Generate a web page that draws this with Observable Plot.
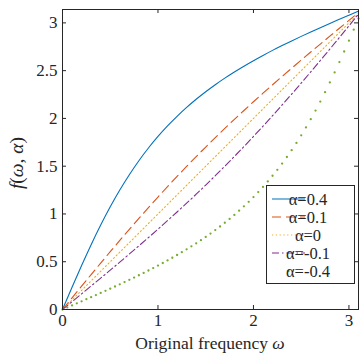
<!DOCTYPE html>
<html><head><meta charset="utf-8">
<script src="https://cdn.jsdelivr.net/npm/d3@7"></script>
<script src="https://cdn.jsdelivr.net/npm/@observablehq/plot@0.6"></script>
<style>body{margin:0;background:#fff;} #chart svg, #chart svg text{font-family:"Liberation Serif","Times New Roman",serif !important;}</style>
</head><body><div id="chart"></div>
<script>
// Frequency grid for the lines
const omegaLine = [0,0.1,0.2,0.3,0.4,0.5,0.6,0.7,0.8,0.9,1.0,1.1,1.2,1.3,1.4,1.5,1.6,1.7,1.8,1.9,2.0,2.1,2.2,2.3,2.4,2.5,2.6,2.7,2.8,2.9,3.0,3.1];
// alpha = 0.4
const fA04 = [0,0.2325,0.4600,0.6781,0.8836,1.0747,1.2504,1.4110,1.5572,1.6902,1.8112,1.9215,2.0223,2.1149,2.2002,2.2793,2.3528,2.4214,2.4860,2.5468,2.6045,2.6595,2.7121,2.7626,2.8114,2.8587,2.9048,2.9498,2.9940,3.0376,3.0808,3.1238];
// alpha = 0.1
const fA01 = [0,0.1222,0.2440,0.3653,0.4857,0.6050,0.7229,0.8393,0.9539,1.0667,1.1774,1.2862,1.3928,1.4974,1.5998,1.7003,1.7987,1.8952,1.9899,2.0828,2.1742,2.2640,2.3524,2.4396,2.5257,2.6107,2.6949,2.7784,2.8612,2.9436,3.0257,3.1076];
// alpha = -0.1
const fAm01 = [0,0.0818,0.1638,0.2461,0.3287,0.4119,0.4958,0.5805,0.6661,0.7528,0.8407,0.9299,1.0206,1.1129,1.2068,1.3026,1.4002,1.4998,1.6014,1.7050,1.8108,1.9187,2.0286,2.1406,2.2544,2.3701,2.4874,2.6061,2.7261,2.8470,2.9687,3.0908];
// alpha = 0 (identity)
const omegaA0 = [0,3.1];
const fA0 = [0,3.1];
// alpha = -0.4 (dot markers)
const omegaDots = [0,0.05,0.10,0.15,0.20,0.25,0.30,0.35,0.40,0.45,0.50,0.55,0.60,0.65,0.70,0.75,0.80,0.85,0.90,0.95,1.00,1.05,1.10,1.15,1.20,1.25,1.30,1.35,1.40,1.45,1.50,1.55,1.60,1.65,1.70,1.75,1.80,1.85,1.90,1.95,2.00,2.05,2.10,2.15,2.20,2.25,2.30,2.35,2.40,2.45,2.50,2.55,2.60,2.65,2.70,2.75,2.80,2.85,2.90,2.95,3.00,3.05,3.10];
const fAm04 = [0,0.0214,0.0429,0.0644,0.0860,0.1076,0.1294,0.1513,0.1733,0.1956,0.2180,0.2407,0.2636,0.2868,0.3104,0.3343,0.3585,0.3832,0.4083,0.4339,0.4600,0.4866,0.5139,0.5418,0.5704,0.5998,0.6299,0.6609,0.6929,0.7258,0.7597,0.7948,0.8312,0.8688,0.9078,0.9483,0.9904,1.0342,1.0798,1.1274,1.1771,1.2290,1.2833,1.3402,1.3997,1.4621,1.5275,1.5961,1.6681,1.7435,1.8226,1.9054,1.9920,2.0824,2.1767,2.2747,2.3764,2.4814,2.5896,2.7005,2.8136,2.9285,3.0446];

const legendLabels = ["α=0.4","α=0.1","α=0","α=-0.1","α=-0.4"];
const colors = ["#0072BD","#D95319","#EDB120","#7E2F8E","#77AC30"];
const xTicks = [0,1,2,3];
const yTicks = [0,0.5,1,1.5,2,2.5,3];

const rows = (ws, fs) => ws.map((w,i) => ({w, f: fs[i]}));
const d04 = rows(omegaLine, fA04), d01 = rows(omegaLine, fA01), dm01 = rows(omegaLine, fAm01);
const d0 = rows(omegaA0, fA0), dm04 = rows(omegaDots, fAm04);

const FONT = '"Liberation Serif", "Times New Roman", serif';
const W = 361, H = 358, mL = 62, mR = 3, mT = 9, mB = 49;
const axisColor = "#262626";
const chart = Plot.plot({
  width: W, height: H,
  marginLeft: mL, marginRight: mR, marginTop: mT, marginBottom: mB,
  style: {fontFamily: FONT, fontSize: "17px", color: axisColor, background: "#fff"},
  x: {domain: [0, 3.1]},
  y: {domain: [0, 3.14]},
  marks: [
    Plot.line(d04, {x: "w", y: "f", stroke: colors[0], strokeWidth: 1.1, curve: "monotone-x"}),
    Plot.line(d01, {x: "w", y: "f", stroke: colors[1], strokeWidth: 1.1, strokeDasharray: "9,5", curve: "monotone-x"}),
    Plot.line(d0, {x: "w", y: "f", stroke: colors[2], strokeWidth: 1.1, strokeDasharray: "1.2,2.6"}),
    Plot.line(dm01, {x: "w", y: "f", stroke: colors[3], strokeWidth: 1.1, strokeDasharray: "7,3,1.5,3", curve: "monotone-x"}),
    Plot.dot(dm04, {x: "w", y: "f", r: 1.15, fill: colors[4], stroke: null}),
    Plot.frame({stroke: axisColor, strokeWidth: 1}),
    Plot.tickX(xTicks, {x: d => d, insetTop: H - mT - mB - 4, stroke: axisColor}),
    Plot.tickX(xTicks, {x: d => d, insetBottom: H - mT - mB - 4, stroke: axisColor}),
    Plot.tickY(yTicks, {y: d => d, insetRight: W - mL - mR - 4, stroke: axisColor}),
    Plot.tickY(yTicks, {y: d => d, insetLeft: W - mL - mR - 4, stroke: axisColor}),
    Plot.axisX(xTicks, {tickSize: 0, tickPadding: 4, label: null, fontSize: 17, fill: axisColor}),
    Plot.axisY(yTicks, {tickSize: 0, tickPadding: 5, label: null, fontSize: 17, fill: axisColor, tickFormat: d => String(d)})
  ]
});
document.getElementById("chart").appendChild(chart);

const svg = d3.select(chart);
svg.attr("font-family", FONT).style("font-family", FONT);
// x label
const xl = svg.append("text").attr("x", (mL + W - mR) / 2).attr("y", 349)
  .attr("text-anchor", "middle").attr("font-size", 17.5).attr("fill", axisColor);
xl.append("tspan").text("Original frequency ");
xl.append("tspan").attr("font-style", "italic").text("ω");
// y label
const yl = svg.append("text").attr("transform", "translate(23,163) rotate(-90)")
  .attr("text-anchor", "middle").attr("font-size", 19.5).attr("fill", axisColor);
yl.append("tspan").attr("font-style", "italic").text("f");
yl.append("tspan").text("(");
yl.append("tspan").attr("font-style", "italic").text("ω");
yl.append("tspan").text(", ");
yl.append("tspan").attr("font-style", "italic").text("α");
yl.append("tspan").text(")");

// legend
const lg = svg.append("g");
lg.append("rect").attr("x", 266.5).attr("y", 185.5).attr("width", 88).attr("height", 98)
  .attr("fill", "#fff").attr("stroke", axisColor).attr("stroke-width", 1);
const dashes = [null, "9,5", "1.2,2.6", "7,3,1.5,3"];
legendLabels.forEach((lab, i) => {
  const y = 199 + i * 18;
  if (i < 4) {
    lg.append("line").attr("x1", 272).attr("x2", 305).attr("y1", y).attr("y2", y)
      .attr("stroke", colors[i]).attr("stroke-width", 1.1)
      .attr("stroke-dasharray", dashes[i]);
  } else {
    lg.append("circle").attr("cx", 288.5).attr("cy", y).attr("r", 1.15).attr("fill", colors[i]);
  }
  lg.append("text").attr("x", 308).attr("y", y).attr("dy", "0.35em")
    .attr("font-size", 16.5).attr("fill", axisColor).text(lab);
});
svg.selectAll("text").attr("font-family", FONT).style("font-family", FONT);
</script>
</body></html>
